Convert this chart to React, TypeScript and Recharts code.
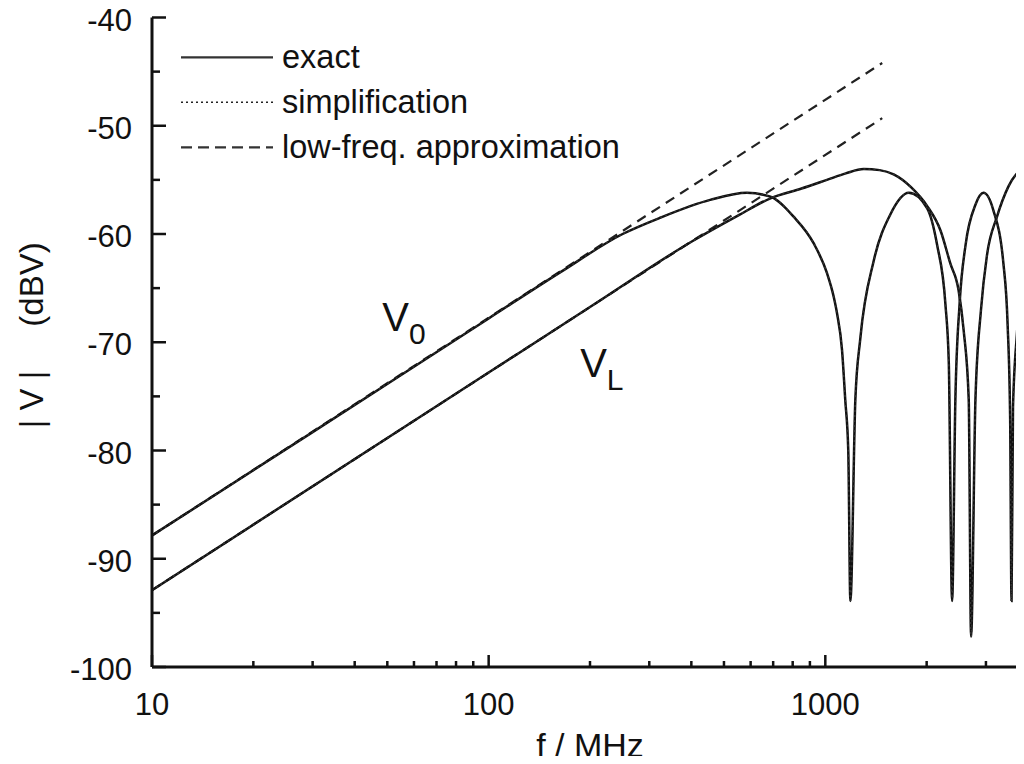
import React from 'react';
import { LineChart, Line, XAxis, YAxis, ReferenceDot } from 'recharts';

// |V| vs frequency: exact response, simplification and low-frequency approximation
// frequencies in MHz, levels in dBV

const V0_FREQ = [10, 30, 100, 163, 250, 323, 455, 585, 687, 805, 923, 1011, 1059, 1083, 1121, 1146, 1170, 1187, 1228, 1271, 1392, 1560, 1770, 2005, 2148, 2274, 2327, 2380, 2434, 2506, 2610, 2792, 2951, 3155, 3380, 3480, 3540, 3574, 3610, 3713, 3900];
const V0_DB = [-87.85, -78.3, -67.8, -63.55, -60.0, -58.5, -56.85, -56.2, -56.55, -58.4, -60.85, -63.6, -65.8, -67.3, -70.7, -75.3, -80.0, -93.9, -75.3, -69.6, -62.5, -58.2, -56.2, -57.6, -61.0, -66.5, -71.9, -93.9, -75.3, -66.4, -61.0, -57.3, -56.2, -57.8, -62.7, -68.4, -77.0, -93.9, -76.0, -69.0, -60.5];

const VL_FREQ = [10, 100, 200, 406, 550, 687, 850, 1011, 1150, 1300, 1450, 1596, 1800, 2005, 2200, 2350, 2488, 2576, 2667, 2710, 2792, 2900, 3020, 3236, 3500, 3900];
const VL_DB = [-92.9, -72.8, -66.75, -60.6, -58.3, -56.7, -55.8, -55.0, -54.4, -54.0, -54.1, -54.5, -55.7, -57.4, -59.7, -62.7, -65.2, -68.9, -75.3, -97.2, -75.3, -67.0, -62.0, -58.4, -55.6, -53.8];

// low-frequency approximation: straight 20 dB/decade lines
const APPROX_FREQ = [10, 1476];
const V0_APPROX_DB = [-87.85, -44.2];
const VL_APPROX_DB = [-92.9, -49.3];

const X_TICKS = [10, 20, 30, 40, 50, 60, 70, 80, 90, 100, 200, 300, 400, 500, 600, 700, 800, 900, 1000, 2000, 3000, 4000];
const X_MAJOR = [10, 100, 1000];
const Y_TICKS = [-100, -95, -90, -85, -80, -75, -70, -65, -60, -55, -50, -45, -40];

const LABEL_F = [48.3, 187];
const LABEL_DB = [-69.0, -73.2];
const LABEL_SUB = ['0', 'L'];

const LEGEND_NAMES = ['exact', 'simplification', 'low-freq. approximation'];
const LEGEND_DASH = ['', '2 3', '11 6'];

const toPoints = (fs: number[], dbs: number[]) => fs.map((f, i) => ({ f, db: dbs[i] }));

const v0Exact = toPoints(V0_FREQ, V0_DB);
const vlExact = toPoints(VL_FREQ, VL_DB);
const v0Approx = toPoints(APPROX_FREQ, V0_APPROX_DB);
const vlApprox = toPoints(APPROX_FREQ, VL_APPROX_DB);

const FONT = '"Liberation Sans", Arial, Helvetica, sans-serif';
const INK = '#111';

// ticks point inwards, gnuplot style; minor ticks are shorter
function BottomTick({ x, y, payload }: any) {
  const major = X_MAJOR.includes(payload.value);
  return (
    <g>
      <line x1={x} x2={x} y1={y} y2={y - (major ? 12 : 6)} stroke={INK} strokeWidth={2.5} />
      {major && (
        <text x={x} y={y + 48} textAnchor="middle" fontSize={31} fontFamily={FONT} fill={INK}>
          {payload.value}
        </text>
      )}
    </g>
  );
}

function TopTick({ x, y, payload }: any) {
  const major = X_MAJOR.includes(payload.value);
  return <line x1={x} x2={x} y1={y} y2={y + (major ? 12 : 7)} stroke={INK} strokeWidth={2.5} />;
}

function LeftTick({ x, y, payload }: any) {
  const major = payload.value % 10 === 0;
  return (
    <g>
      <line x1={x} x2={x + (major ? 14 : 8)} y1={y} y2={y} stroke={INK} strokeWidth={2.5} />
      {major && (
        <text x={x - 20} y={y + 13} textAnchor="end" fontSize={31} fontFamily={FONT} fill={INK}>
          {payload.value}
        </text>
      )}
    </g>
  );
}

function YTitle({ viewBox }: any) {
  const cx = viewBox.x + 35;
  const cy = viewBox.y + viewBox.height / 2 - 7;
  return (
    <text
      x={cx}
      y={cy}
      transform={`rotate(-90 ${cx} ${cy})`}
      textAnchor="middle"
      fontSize={33}
      fontFamily={FONT}
      fill={INK}
    >
      | V |
      <tspan dx={44}>(dBV)</tspan>
    </text>
  );
}

function XTitle({ viewBox }: any) {
  return (
    <text
      x={viewBox.x + viewBox.width / 2}
      y={viewBox.y + 90}
      textAnchor="middle"
      fontSize={34}
      fontFamily={FONT}
      fill={INK}
    >
      f / MHz
    </text>
  );
}

function CurveLabel({ viewBox, sub }: any) {
  const x = viewBox.x + viewBox.width / 2;
  const y = viewBox.y + viewBox.height / 2;
  return (
    <text x={x} y={y} fontSize={40} fontFamily={FONT} fill={INK}>
      V
      <tspan fontSize={30} dy={13}>
        {sub}
      </tspan>
    </text>
  );
}

function LegendBox() {
  return (
    <svg width={480} height={140} style={{ display: 'block' }}>
      {LEGEND_NAMES.map((name, i) => {
        const y = 27.3 + i * 45;
        return (
          <g key={name}>
            <line
              x1={0}
              x2={92}
              y1={y}
              y2={y}
              stroke={i === 1 ? '#222' : '#333'}
              strokeWidth={i === 1 ? 1.5 : 2.2}
              strokeDasharray={LEGEND_DASH[i] || undefined}
            />
            <text x={101} y={y + 11} fontSize={32.5} fontFamily={FONT} fill={INK}>
              {name}
            </text>
          </g>
        );
      })}
    </svg>
  );
}

export default function App() {
  return (
    <div
      style={{
        position: 'relative',
        width: 1016,
        height: 764,
        overflow: 'hidden',
        marginTop: -8,
        marginBottom: -8,
        background: '#fff',
      }}
    >
      <LineChart width={1030} height={764} margin={{ top: 17.5, right: 10, bottom: 0, left: 0 }}>
        <XAxis
          dataKey="f"
          type="number"
          scale="log"
          domain={[10, 4000]}
          allowDataOverflow
          ticks={X_TICKS}
          interval={0}
          height={97}
          tickSize={0}
          tickMargin={0}
          tickLine={false}
          tick={BottomTick}
          axisLine={{ stroke: INK, strokeWidth: 3 }}
          label={XTitle}
        />
        <XAxis
          xAxisId="top"
          orientation="top"
          dataKey="f"
          type="number"
          scale="log"
          domain={[10, 4000]}
          allowDataOverflow
          ticks={X_TICKS}
          interval={0}
          height={0}
          tickSize={0}
          tickMargin={0}
          tickLine={false}
          tick={TopTick}
          axisLine={{ stroke: INK, strokeWidth: 3 }}
        />
        <YAxis
          type="number"
          domain={[-100, -40]}
          allowDataOverflow
          ticks={Y_TICKS}
          interval={0}
          width={144}
          tickSize={0}
          tickMargin={0}
          tickLine={false}
          tick={LeftTick}
          axisLine={{ stroke: INK, strokeWidth: 3 }}
          label={YTitle}
        />

        <Line data={v0Approx} dataKey="db" type="linear" stroke="#222" strokeWidth={2.2} strokeDasharray="10 7" dot={false} isAnimationActive={false} />
        <Line data={vlApprox} dataKey="db" type="linear" stroke="#222" strokeWidth={2.2} strokeDasharray="10 7" dot={false} isAnimationActive={false} />
        <Line data={v0Exact} dataKey="db" type="monotoneX" stroke={INK} strokeWidth={2.5} dot={false} isAnimationActive={false} />
        <Line data={vlExact} dataKey="db" type="monotoneX" stroke={INK} strokeWidth={2.5} dot={false} isAnimationActive={false} />
        {/* the simplification lies on top of the exact curves */}
        <Line data={v0Exact} dataKey="db" type="monotoneX" stroke="#333" strokeWidth={1.5} strokeDasharray="2 3" dot={false} isAnimationActive={false} />
        <Line data={vlExact} dataKey="db" type="monotoneX" stroke="#333" strokeWidth={1.5} strokeDasharray="2 3" dot={false} isAnimationActive={false} />

        {LABEL_F.map((f, i) => (
          <ReferenceDot
            key={LABEL_SUB[i]}
            x={f}
            y={LABEL_DB[i]}
            r={1}
            fill="none"
            stroke="none"
            label={(p: any) => <CurveLabel viewBox={p.viewBox} sub={LABEL_SUB[i]} />}
          />
        ))}
      </LineChart>
      <div style={{ position: 'absolute', left: 173, top: 30 }}>
        <LegendBox />
      </div>
    </div>
  );
}
